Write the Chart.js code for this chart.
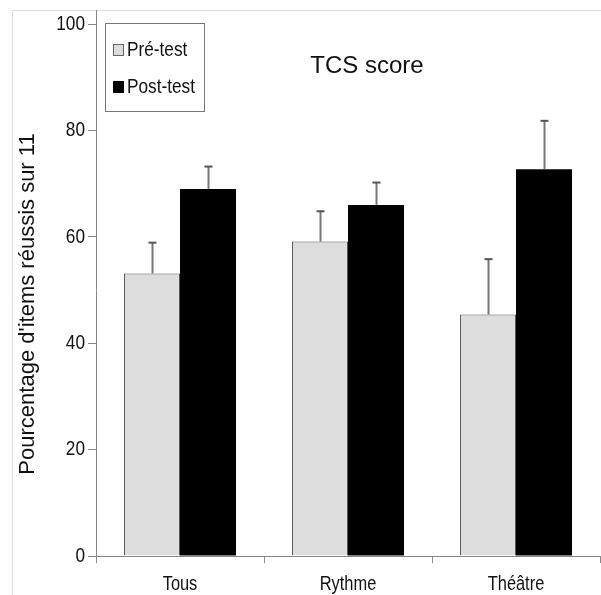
<!DOCTYPE html>
<html>
<head>
<meta charset="utf-8">
<script src="https://cdn.jsdelivr.net/npm/chart.js@4"></script>
<style>
  html, body { margin: 0; padding: 0; background: #fff; }
  #wrap { width: 601px; height: 595px; }
</style>
</head>
<body>
<div id="wrap"><canvas id="myChart" width="601" height="595"></canvas></div>
<script>
// data
const categories = ['Tous', 'Rythme', 'Théâtre'];
const preValues = [53.1, 59.1, 45.4];
const preErrors = [5.8, 5.7, 10.4];
const postValues = [69.0, 66.0, 72.7];
const postErrors = [4.2, 4.2, 9.1];
const yTicks = [0, 20, 40, 60, 80, 100];

const FONT = "'Liberation Sans', Arial, sans-serif";

// no narrow font installed, so squeeze the regular one horizontally
function narrowText(ctx, text, x, y, size, align) {
    ctx.save();
    ctx.translate(x, y);
    ctx.scale(0.82, 1);
    ctx.font = size + 'px ' + FONT;
    ctx.textAlign = align;
    ctx.textBaseline = 'middle';
    ctx.fillStyle = '#111';
    ctx.fillText(text, 0, 0);
    ctx.restore();
}

// upward error bars + frame extensions, labels, title, legend and y title
const extras = {
    id: 'extras',
    afterDatasetsDraw(chart) {
        const ctx = chart.ctx;
        const errs = [preErrors, postErrors];
        const yScale = chart.scales.y;
        ctx.save();
        chart.data.datasets.forEach(function (ds, i) {
            const meta = chart.getDatasetMeta(i);
            meta.data.forEach(function (bar, j) {
                const top = yScale.getPixelForValue(ds.data[j] + errs[i][j]);
                const x = Math.round(bar.x) + 0.5;
                ctx.strokeStyle = '#777';
                ctx.lineWidth = 2;
                ctx.beginPath();
                ctx.moveTo(x, bar.y);
                ctx.lineTo(x, top);
                ctx.stroke();
                ctx.strokeStyle = '#555';
                ctx.beginPath();
                ctx.moveTo(x - 4, top);
                ctx.lineTo(x + 4, top);
                ctx.stroke();
            });
        });
        ctx.restore();
    },
    afterDraw(chart) {
        const ctx = chart.ctx;
        const a = chart.chartArea;
        const xs = chart.scales.x;
        const ys = chart.scales.y;
        ctx.save();
        // light outer frame
        ctx.strokeStyle = '#dcdcdc';
        ctx.lineWidth = 1;
        ctx.beginPath();
        ctx.moveTo(12.5, 595);
        ctx.lineTo(12.5, 10.5);
        ctx.lineTo(601, 10.5);
        ctx.stroke();
        // y axis runs up to the frame
        ctx.strokeStyle = '#888';
        ctx.beginPath();
        ctx.moveTo(a.left + 0.5, a.top);
        ctx.lineTo(a.left + 0.5, 10);
        ctx.stroke();

        // tick labels
        yTicks.forEach(function (v) {
            narrowText(ctx, String(v), a.left - 11, ys.getPixelForValue(v), 21, 'right');
        });
        categories.forEach(function (c, i) {
            narrowText(ctx, c, xs.getPixelForTick(i), a.bottom + 28, 20, 'center');
        });

        // title inside the plot
        ctx.fillStyle = '#111';
        ctx.font = '24px ' + FONT;
        ctx.textAlign = 'center';
        ctx.textBaseline = 'middle';
        ctx.fillText('TCS score', 367, 66);

        // legend box
        ctx.strokeStyle = '#777';
        ctx.strokeRect(105.5, 23.5, 99, 88);
        ctx.fillStyle = '#dddddd';
        ctx.fillRect(113, 44, 11, 12);
        ctx.strokeStyle = '#666';
        ctx.strokeRect(113.5, 44.5, 10, 11);
        ctx.fillStyle = '#000';
        ctx.fillRect(113, 81, 11, 12);
        narrowText(ctx, 'Pré-test', 127, 50, 21, 'left');
        narrowText(ctx, 'Post-test', 127, 87, 21, 'left');

        // y axis title
        ctx.fillStyle = '#111';
        ctx.translate(28, 304);
        ctx.rotate(-Math.PI / 2);
        ctx.textAlign = 'center';
        ctx.font = '22px ' + FONT;
        ctx.fillText("Pourcentage d'items réussis sur 11", 0, 0);
        ctx.restore();
    }
};

const ctx = document.getElementById('myChart').getContext('2d');
const myChart = new Chart(ctx, {
    type: 'bar',
    data: {
        labels: categories,
        datasets: [{
            label: 'Pré-test',
            data: preValues,
            backgroundColor: '#dddddd',
            borderColor: '#555',
            borderWidth: 1,
            borderSkipped: 'bottom'
        }, {
            label: 'Post-test',
            data: postValues,
            backgroundColor: '#000000',
            borderWidth: 0
        }]
    },
    options: {
        responsive: false,
        animation: false,
        devicePixelRatio: 1,
        layout: { padding: { top: 24, right: 1, left: 0, bottom: 0 } },
        datasets: {
            bar: { categoryPercentage: 0.667, barPercentage: 1.0 }
        },
        scales: {
            x: {
                afterFit: function (scale) { scale.height = 39; },
                grid: {
                    offset: true,
                    drawOnChartArea: false,
                    tickLength: 7,
                    color: '#888'
                },
                border: { color: '#888', width: 1 },
                ticks: { display: false }
            },
            y: {
                min: 0,
                max: 100,
                afterFit: function (scale) { scale.width = 96; },
                afterBuildTicks: function (scale) {
                    scale.ticks = yTicks.map(function (v) { return { value: v }; });
                },
                grid: {
                    drawOnChartArea: false,
                    tickLength: 8,
                    color: '#888'
                },
                border: { color: '#888', width: 1 },
                ticks: { display: false }
            }
        },
        plugins: {
            legend: { display: false },
            title: { display: false },
            tooltip: { enabled: false }
        }
    },
    plugins: [extras]
});
</script>
</body>
</html>
